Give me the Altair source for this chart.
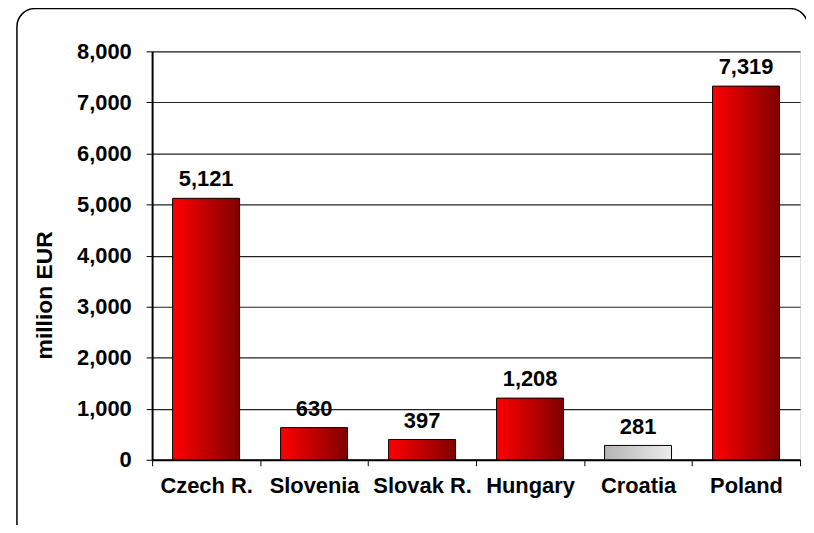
import altair as alt
import pandas as pd

countries = ["Czech R.", "Slovenia", "Slovak R.", "Hungary", "Croatia", "Poland"]
values = [5121, 630, 397, 1208, 281, 7319]
y_ticks = [0, 1000, 2000, 3000, 4000, 5000, 6000, 7000, 8000]

df = pd.DataFrame({"country": countries, "value": values})

FONT = "Liberation Sans"
W, H = 652, 411

red_grad = {
    "gradient": "linear", "x1": 0, "x2": 1, "y1": 0, "y2": 0,
    "stops": [{"offset": 0, "color": "#ff0000"}, {"offset": 1, "color": "#7f0000"}],
}
gray_grad = {
    "gradient": "linear", "x1": 0, "x2": 1, "y1": 0, "y2": 0,
    "stops": [{"offset": 0, "color": "#b4b4b4"}, {"offset": 1, "color": "#ececec"}],
}

x_enc = alt.X(
    "country:N", sort=countries, title=None,
    scale=alt.Scale(paddingInner=0, paddingOuter=0),
    axis=alt.Axis(
        labelAngle=0, labelFont=FONT, labelFontSize=22, labelFontWeight="bold",
        labelColor="black", tickBand="extent", tickSize=6, tickColor="black",
        domainColor="black", domainWidth=2, labelPadding=10, grid=False,
    ),
)
y_enc = alt.Y(
    "value:Q", title="million EUR",
    scale=alt.Scale(domain=[0, 8000], nice=False),
    axis=alt.Axis(
        values=y_ticks, format=",d", labelFont=FONT, labelFontSize=22,
        labelFontWeight="bold", labelColor="black", tickSize=6, tickColor="black",
        domainColor="black", domainWidth=2, labelPadding=15,
        gridColor="#222222", gridWidth=1.2,
        titleFont=FONT, titleFontSize=23, titleFontWeight="bold", titleColor="black",
        titleX=-108, titleY=245, titleAngle=270, titleAlign="center",
        titleBaseline="middle",
    ),
)

border = alt.Chart(pd.DataFrame({"k": [0]})).mark_rect(
    fill=None, stroke="black", strokeWidth=1.5, cornerRadius=18, clip=False,
).encode(
    x=alt.value(-136), x2=alt.value(W + 8), y=alt.value(-43), y2=alt.value(H + 100),
)

bars = alt.Chart(df).mark_bar(
    width={"band": 0.62}, stroke="black", strokeWidth=1,
).encode(
    x=x_enc, y=y_enc,
    color=alt.condition(alt.datum.country == "Croatia", alt.value(gray_grad), alt.value(red_grad)),
)

labels = alt.Chart(df).mark_text(
    font=FONT, fontSize=22, fontWeight="bold", color="black",
    baseline="alphabetic", dy=-12,
).encode(
    x=alt.X("country:N", sort=countries),
    y=alt.Y("value:Q"),
    text=alt.Text("value:Q", format=",d"),
)

chart = alt.layer(border, bars, labels).properties(
    width=W, height=H,
    autosize=alt.AutoSizeParams(type="none"),
    padding={"left": 145, "top": 42, "right": 6, "bottom": 64},
).configure_view(stroke="black", strokeWidth=1.5).configure(background="white")

chart.save("out.html", embed_options={"renderer": "svg", "actions": False})
